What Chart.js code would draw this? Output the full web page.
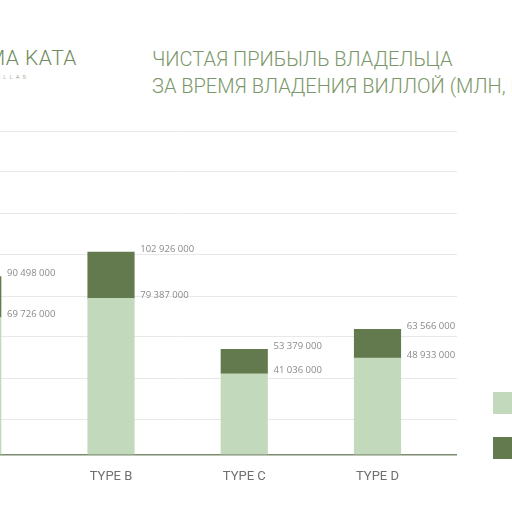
<!DOCTYPE html>
<html>
<head>
<meta charset="utf-8">
<script src="https://cdn.jsdelivr.net/npm/chart.js@4/dist/chart.umd.min.js"></script>
<style>
  html, body { margin: 0; padding: 0; }
  body { width: 512px; height: 512px; position: relative; overflow: hidden; background: #fff; }
  .logo { position: absolute; right: 435px; top: 46px; text-align: right; white-space: nowrap;
          font-family: Roboto, sans-serif; font-weight: 300; font-size: 21px; color: #6f8a5c; letter-spacing: 0.5px; }
  .logo small { display: block; font-size: 6px; letter-spacing: 3px; color: #7f8f74; margin-top: 3px; margin-right: 48px; }
  .title { position: absolute; left: 152px; top: 46px; white-space: nowrap;
           font-family: Roboto, sans-serif; font-weight: 300; font-size: 20px; line-height: 27px; color: #7b9769; }
  .wrap { position: absolute; left: -100px; top: 120px; width: 557px; height: 380px; }
  .legend { position: absolute; left: 493px; white-space: nowrap; font-family: Roboto, sans-serif; font-size: 12px; color: #777; }
  .legend span { display: inline-block; width: 22px; height: 22px; vertical-align: middle; margin-right: 8px; }
</style>
</head>
<body>
<div class="logo">KARMA KATA<small>VILLAS</small></div>
<div class="title">ЧИСТАЯ ПРИБЫЛЬ ВЛАДЕЛЬЦА<br>ЗА ВРЕМЯ ВЛАДЕНИЯ ВИЛЛОЙ (МЛН, РУБ)</div>
<div class="wrap"><canvas id="chart"></canvas></div>
<div class="legend" id="leg1" style="top:392px"><span></span>Доход от аренды</div>
<div class="legend" id="leg2" style="top:437px"><span></span>Рост стоимости</div>
<script>
// values
const categories = ['TYPE A', 'TYPE B', 'TYPE C', 'TYPE D'];
const rentValues = [69726000, 79387000, 41036000, 48933000];
const growthValues = [20772000, 23539000, 12343000, 14633000];
const gridValues = [17600000, 38800000, 60000000, 80100000, 101800000, 122400000, 143700000, 164400000];

const lightGreen = '#c3d9bb';
const darkGreen = '#627a4e';

document.querySelector('#leg1 span').style.background = lightGreen;
document.querySelector('#leg2 span').style.background = darkGreen;

function fmt(v) {
  return String(v).replace(/\B(?=(\d{3})+(?!\d))/g, ' ');
}

const valueLabels = {
  id: 'valueLabels',
  afterDatasetsDraw(chart) {
    const ctx = chart.ctx;
    ctx.save();
    ctx.font = '9.5px "Open Sans", sans-serif';
    ctx.fillStyle = '#8a8a8a';
    ctx.textAlign = 'left';
    ctx.textBaseline = 'middle';
    chart.data.datasets.forEach((ds, d) => {
      chart.getDatasetMeta(d).data.forEach((el, i) => {
        let v = rentValues[i];
        if (d === 1) v += growthValues[i];
        ctx.fillText(fmt(v), el.x + el.width / 2 + 6, el.y - 3);
      });
    });
    ctx.restore();
  }
};

const ctx = document.getElementById('chart');

new Chart(ctx, {
  type: 'bar',
  data: {
    datasets: [
      {
        label: 'Доход от аренды',
        data: rentValues.map((v, i) => ({ x: i, y: v })),
        backgroundColor: lightGreen,
        borderWidth: 0,
        barThickness: 46.5
      },
      {
        label: 'Рост стоимости',
        data: growthValues.map((v, i) => ({ x: i, y: v })),
        backgroundColor: darkGreen,
        borderWidth: 0,
        barThickness: 46.5
      }
    ]
  },
  options: {
    responsive: true,
    maintainAspectRatio: false,
    animation: false,
    layout: { padding: { top: 8, right: 0, bottom: 0, left: 0 } },
    plugins: {
      legend: { display: false },
      tooltip: { enabled: false }
    },
    scales: {
      x: {
        type: 'linear',
        stacked: true,
        offset: false,
        min: -0.5835,
        max: 3.5966,
        afterBuildTicks: (scale) => { scale.ticks = categories.map((c, i) => ({ value: i })); },
        ticks: {
          callback: (v) => categories[v],
          color: '#6f6f6f',
          font: { family: 'Roboto', size: 13 },
          padding: 15,
          autoSkip: false,
          maxRotation: 0
        },
        grid: { display: false, drawTicks: false },
        border: { display: true, color: '#7c8b70', width: 1.5 }
      },
      y: {
        stacked: true,
        min: 0,
        max: 166000000,
        afterBuildTicks: (scale) => { scale.ticks = gridValues.map(v => ({ value: v })); },
        ticks: { display: false },
        grid: { color: '#e8e8e8', lineWidth: 1, drawTicks: false },
        border: { display: false }
      }
    }
  },
  plugins: [valueLabels]
});
</script>
</body>
</html>
